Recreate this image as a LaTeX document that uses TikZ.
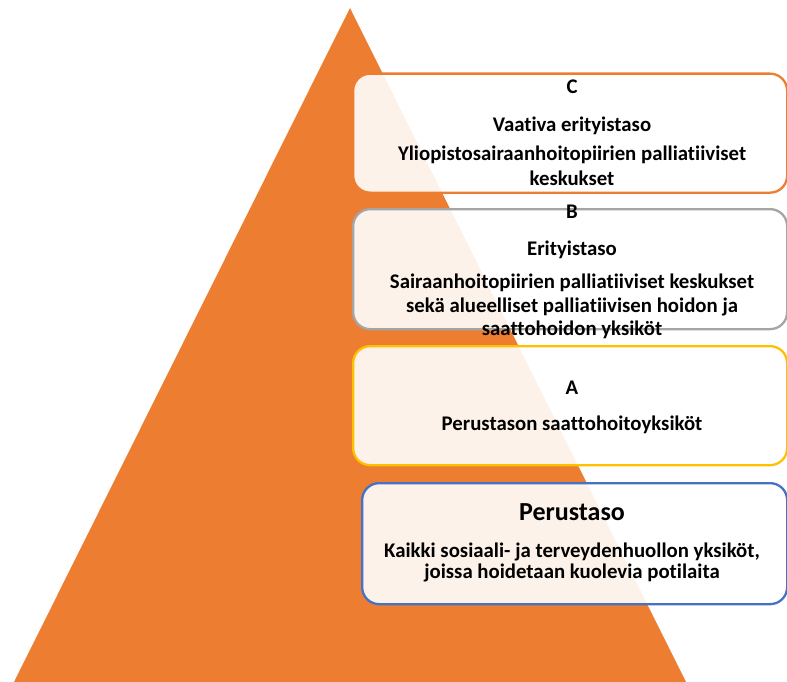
\documentclass[tikz,border=0pt]{standalone}
\usepackage{fontspec}
\setmainfont{Carlito}[Ligatures={NoCommon}]
\definecolor{pyramid}{HTML}{ED7D31}
\definecolor{levelC}{HTML}{ED7D31}
\definecolor{levelB}{HTML}{A5A5A5}
\definecolor{levelA}{HTML}{FFC000}
\definecolor{levelP}{HTML}{4472C4}
\tikzset{
  levelbox/.style={draw, line width=2.3pt, rounded corners=17pt, fill=white,
    fill opacity=0.9, draw opacity=1, anchor=north west, inner sep=0pt},
  lbl/.style={font=\bfseries\fontsize{20.8}{25}\selectfont, align=center}
}
\begin{document}
\begin{tikzpicture}[x=1pt,y=-1pt]
\useasboundingbox (0,0) rectangle (787,682);
% pyramid
\fill[pyramid] (350,8) -- (686,682) -- (14,682) -- cycle;

% levels
\node[levelbox, draw=levelC, minimum width=434pt, minimum height=119pt] (boxC) at (352,72.5) {};
\node[levelbox, draw=levelB, minimum width=434pt, minimum height=120pt] (boxB) at (352,208) {};
\node[levelbox, draw=levelA, minimum width=434pt, minimum height=119pt] (boxA) at (352,345) {};
\node[levelbox, draw=levelP, minimum width=425pt, minimum height=121pt] (boxP) at (361,482) {};

\node[lbl] (labC) at (572,87) {C};
\node[lbl] (nameC) at (572,126) {Vaativa erityistaso};
\node[lbl] (unitC) at (572,165.5) {Yliopistosairaanhoitopiirien palliatiiviset\\keskukset};

\node[lbl] (labB) at (572,212) {B};
\node[lbl] (nameB) at (572,250) {Erityistaso};
\node[lbl, font=\bfseries\fontsize{20.8}{23.5}\selectfont] (unitB) at (572,306.5)
  {Sairaanhoitopiirien palliatiiviset keskukset\\sekä alueelliset palliatiivisen hoidon ja\\saattohoidon yksiköt};

\node[lbl] (labA) at (572,388) {A};
\node[lbl] (unitA) at (572,425) {Perustason saattohoitoyksiköt};

\node[lbl, font=\bfseries\fontsize{26}{30}\selectfont] (labP) at (572,512) {Perustaso};
\node[lbl, font=\bfseries\fontsize{20.8}{21.7}\selectfont] (unitP) at (572,562.5)
  {Kaikki sosiaali- ja terveydenhuollon yksiköt,\\joissa hoidetaan kuolevia potilaita};
\end{tikzpicture}
\end{document}
